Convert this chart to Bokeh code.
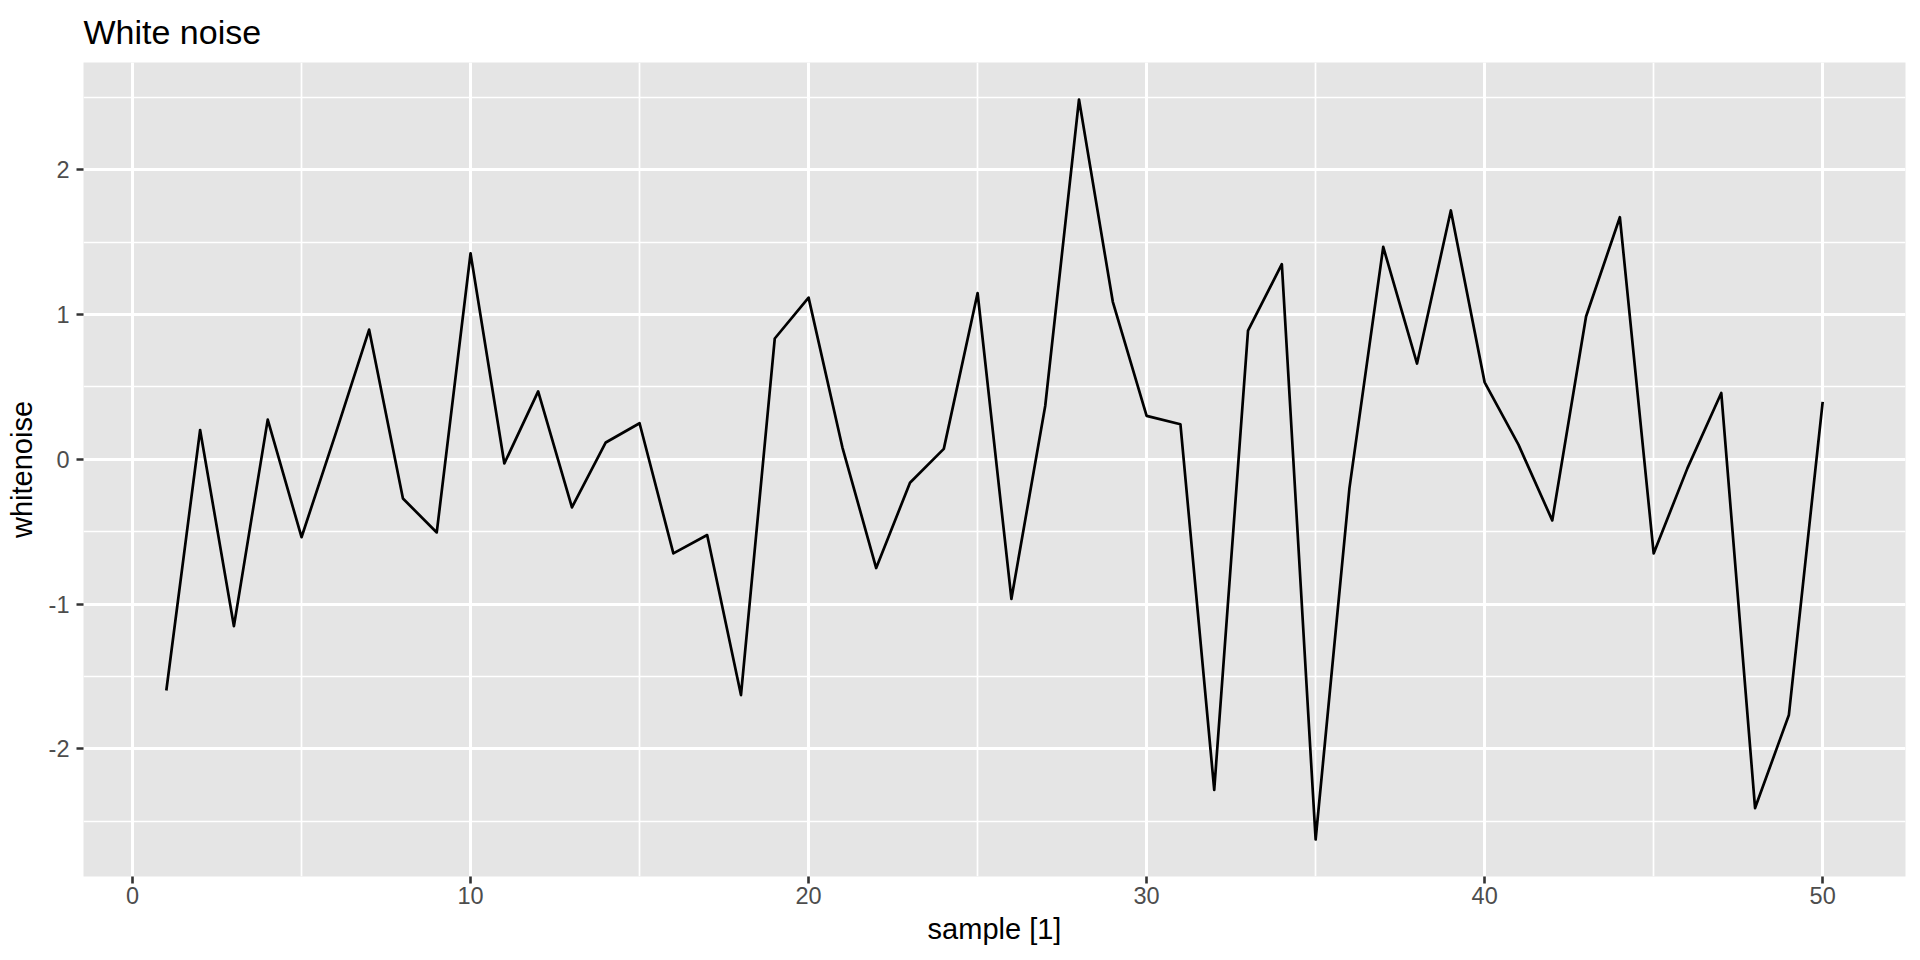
from bokeh.plotting import figure
from bokeh.models import SingleIntervalTicker, Range1d, CustomJSTickFormatter
from bokeh.embed import file_html
from bokeh.resources import INLINE

title_text = "White noise"
sample = list(range(1, 51))
whitenoise = [
    -1.596, 0.202, -1.152, 0.274, -0.538, 0.17, 0.895, -0.271, -0.505, 1.422,
    -0.029, 0.469, -0.332, 0.116, 0.249, -0.650, -0.523, -1.628, 0.834, 1.116,
    0.083, -0.751, -0.162, 0.072, 1.148, -0.964, 0.368, 2.484, 1.087, 0.300,
    0.242, -2.282, 0.888, 1.347, -2.625, -0.199, 1.466, 0.661, 1.718, 0.531,
    0.101, -0.422, 0.986, 1.671, -0.650, -0.061, 0.458, -2.408, -1.765, 0.397,
]
x_ticks_interval = 10
y_ticks_interval = 1

# ggplot-like 5% expansion
xmin, xmax = min(sample), max(sample)
ymin, ymax = min(whitenoise), max(whitenoise)
xpad = (xmax - xmin) * 0.05
ypad = (ymax - ymin) * 0.05

FONT = "Liberation Sans"

p = figure(
    width=1920, height=960, output_backend="svg", toolbar_location=None,
    x_range=Range1d(xmin - xpad, xmax + xpad),
    y_range=Range1d(ymin - ypad, ymax + ypad),
    min_border_left=83, min_border_right=15, min_border_top=62, min_border_bottom=84,
    title=title_text,
    x_axis_label="sample [1]", y_axis_label="whitenoise",
)

p.title.text_font = FONT
p.title.text_font_size = "34px"
p.title.text_font_style = "normal"
p.title.text_color = "black"
p.title.align = "left"
p.title.vertical_align = "top"
p.title.standoff = 20

p.background_fill_color = "#E5E5E5"
p.border_fill_color = "white"
p.outline_line_color = None

p.xaxis.ticker = SingleIntervalTicker(interval=x_ticks_interval, num_minor_ticks=2)
p.yaxis.ticker = SingleIntervalTicker(interval=y_ticks_interval, num_minor_ticks=2)

fmt = "return String(Math.round(tick * 1000) / 1000);"
p.xaxis.formatter = CustomJSTickFormatter(code=fmt)
p.yaxis.formatter = CustomJSTickFormatter(code=fmt)

for g in (p.xgrid, p.ygrid):
    g.grid_line_color = "white"
    g.grid_line_width = 3
    g.minor_grid_line_color = "white"
    g.minor_grid_line_width = 1.7

for ax in (p.xaxis, p.yaxis):
    ax.axis_line_color = None
    ax.major_tick_line_color = "#333333"
    ax.major_tick_line_width = 2.6
    ax.major_tick_out = 7
    ax.major_tick_in = 0
    ax.minor_tick_line_color = None
    ax.major_label_text_font = FONT
    ax.major_label_text_font_size = "23.5px"
    ax.major_label_text_color = "#4D4D4D"
    ax.axis_label_text_font = FONT
    ax.axis_label_text_font_size = "29px"
    ax.axis_label_text_font_style = "normal"
    ax.axis_label_text_color = "black"

p.xaxis.major_label_standoff = 3
p.xaxis.axis_label_standoff = 6
p.yaxis.major_label_standoff = 7
p.yaxis.axis_label_standoff = 8

p.line(sample, whitenoise, line_color="black", line_width=2.7, line_join="round")

open("out.html", "w").write(file_html(p, INLINE))
